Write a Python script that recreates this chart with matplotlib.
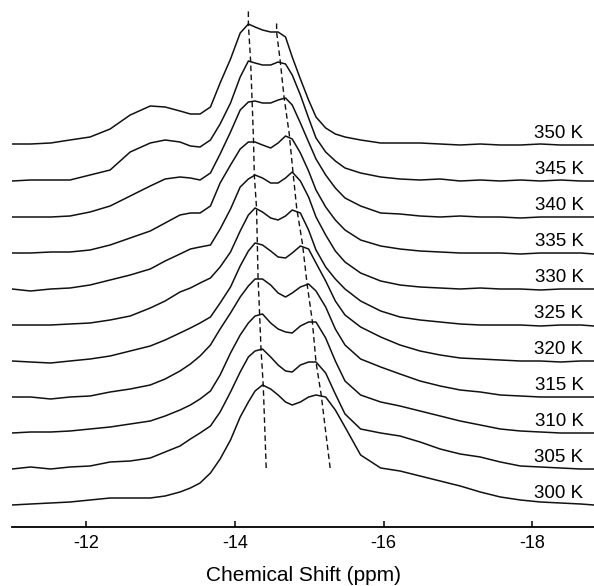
import matplotlib
matplotlib.use("Agg")
import matplotlib.pyplot as plt

plt.rcParams["font.family"] = ["Liberation Sans", "DejaVu Sans"]
plt.rcParams["axes.unicode_minus"] = False

# chemical shift grid (ppm), shared by all spectra
ppm = [-11.00, -11.25, -11.52, -11.78, -12.05, -12.32, -12.59, -12.86, -13.06,
       -13.26, -13.40, -13.53, -13.67, -13.80, -13.94, -14.07, -14.18, -14.27,
       -14.37, -14.48, -14.58, -14.68, -14.77, -14.88, -14.99, -15.09, -15.22,
       -15.35, -15.48, -15.69, -15.96, -16.22, -16.49, -16.76, -17.03, -17.30,
       -17.57, -17.84, -18.11, -18.38, -18.65, -18.83]

temps = [300, 305, 310, 315, 320, 325, 330, 335, 340, 345, 350]

# intensities (a.u., main peak ~120)
s300 = [0, 1, 2, 3, 5, 7, 7, 7, 9, 13, 17, 22, 32, 46, 65, 88, 103, 114, 120, 116, 110,
        103, 100, 103, 108, 110, 108, 95, 78, 50, 37, 34, 29, 24, 19, 13, 8, 5, 3, 2, 1, 0]
s305 = [0, 2, 0, 2, 3, 7, 8, 11, 17, 23, 30, 36, 43, 57, 77, 97, 112, 118, 120, 112, 104,
        98, 97, 104, 107, 107, 96, 75, 55, 40, 36, 33, 27, 20, 15, 12, 7, 3, 2, 1, 0, 0]
s310 = [0, 1, 1, 2, 4, 6, 9, 12, 17, 23, 28, 34, 42, 58, 80, 98, 110, 117, 119, 110, 104,
        101, 100, 107, 111, 111, 95, 72, 52, 38, 31, 27, 22, 17, 12, 8, 4, 2, 1, 0, 0, 0]
s315 = [0, 0, -2, 0, 1, 5, 8, 12, 18, 26, 33, 41, 52, 68, 84, 100, 111, 118, 118, 112, 104,
        100, 104, 110, 113, 106, 90, 68, 52, 38, 30, 23, 16, 11, 7, 5, 2, 1, 0, 0, 0, 0]
s320 = [0, -1, -2, 0, 2, 5, 10, 15, 21, 28, 33, 38, 44, 58, 74, 95, 110, 118, 116, 110, 104,
        103, 108, 115, 112, 98, 80, 60, 46, 34, 24, 16, 10, 6, 3, 2, 1, 0, 0, -1, 0, 0]
s325 = [0, 0, 0, 1, 2, 5, 9, 17, 24, 33, 37, 42, 47, 58, 73, 94, 110, 117, 113, 107, 105,
        109, 115, 112, 95, 75, 58, 46, 36, 24, 14, 8, 5, 3, 1, 0, 0, 0, -1, 0, 0, -1]
s330 = [0, -2, 0, 1, 4, 9, 14, 20, 28, 35, 40, 42, 44, 60, 80, 102, 110, 114, 111, 106, 106,
        111, 117, 108, 92, 72, 54, 38, 27, 16, 8, 4, 2, 1, 0, 1, 0, 0, -1, 0, 0, 0]
s335 = [0, 0, 1, 1, 3, 8, 15, 22, 30, 38, 40, 40, 47, 70, 88, 104, 111, 111, 108, 105, 110,
        117, 114, 100, 82, 63, 46, 33, 23, 13, 7, 4, 2, 1, 0, 0, 0, -1, 0, 0, 0, -1]
s340 = [0, 0, 0, 1, 5, 11, 21, 31, 38, 40, 39, 37, 44, 63, 85, 107, 115, 116, 114, 114, 117,
        119, 112, 94, 75, 58, 42, 29, 19, 11, 4, 3, 1, 0, 1, 0, 0, -1, 0, 0, 0, 0]
s345 = [0, 1, 1, 1, 6, 11, 29, 38, 41, 39, 35, 34, 41, 57, 78, 104, 120, 118, 116, 116, 119,
        117, 106, 86, 63, 43, 29, 20, 13, 8, 4, 2, 1, 2, 0, 1, 0, 1, 0, 1, 0, 0]
s350 = [1, 1, 2, 5, 8, 16, 30, 39, 38, 34, 31, 31, 38, 62, 86, 112, 121, 118, 115, 113, 113,
        108, 88, 66, 45, 28, 17, 11, 8, 5, 2, 2, 2, 1, 0, 1, 0, 0, 1, 0, 0, 0]
spectra = [s300, s305, s310, s315, s320, s325, s330, s335, s340, s345, s350]

# peak positions (ppm) and heights used for the guide lines, 300 K .. 350 K
peak_lo_ppm = [-14.38, -14.35, -14.33, -14.31, -14.30, -14.29, -14.26, -14.25, -14.23, -14.21, -14.18]
peak_lo_h = [120, 120, 121, 120, 119, 117, 114, 111, 117, 120, 121]
peak_hi_ppm = [-15.16, -15.09, -15.04, -14.97, -14.91, -14.83, -14.78, -14.73, -14.66, -14.61, -14.56]
peak_hi_h = [110, 107, 112, 113, 116, 117, 117, 119, 120, 119, 113]
# guide line end points (ppm, a.u.): bottom, top
guide_lo_ends = [(-14.42, 37), (-14.18, 495)]
guide_hi_ends = [(-15.28, 37), (-14.56, 483)]

step = 36  # vertical offset between spectra

fig = plt.figure(figsize=(5.94, 5.86), dpi=100)
ax = fig.add_axes([12 / 594, 59 / 586, 582 / 594, 527 / 586])

for i, (t, s) in enumerate(zip(temps, spectra)):
    off = i * step
    ax.plot(ppm, [v + off for v in s], color="#111111", lw=1.1)
    ax.text(-18.69, off + 12, f"{t} K", ha="right", va="center", fontsize=13.5)

for pk, ph, ends in [(peak_lo_ppm, peak_lo_h, guide_lo_ends),
                     (peak_hi_ppm, peak_hi_h, guide_hi_ends)]:
    gx = [ends[0][0]] + pk + [ends[1][0]]
    gy = [ends[0][1]] + [h + i * step for i, h in enumerate(ph)] + [ends[1][1]]
    ax.plot(gx, gy, color="#111111", lw=1.0, ls=(0, (4, 2.5)))

ax.set_xlim(-11.0, -18.83)
ax.set_ylim(-22, 505)
ax.set_xticks([-12, -14, -16, -18])
ax.set_xticklabels(["-12", "-14", "-16", "-18"])
ax.set_yticks([])
for side in ["left", "right", "top"]:
    ax.spines[side].set_visible(False)
ax.spines["bottom"].set_linewidth(1.3)
ax.tick_params(axis="x", direction="in", length=4, width=1.1, pad=6, labelsize=13)
ax.set_xlabel("Chemical Shift (ppm)", fontsize=15, labelpad=9.5)

fig.savefig("out.png", dpi=100)
